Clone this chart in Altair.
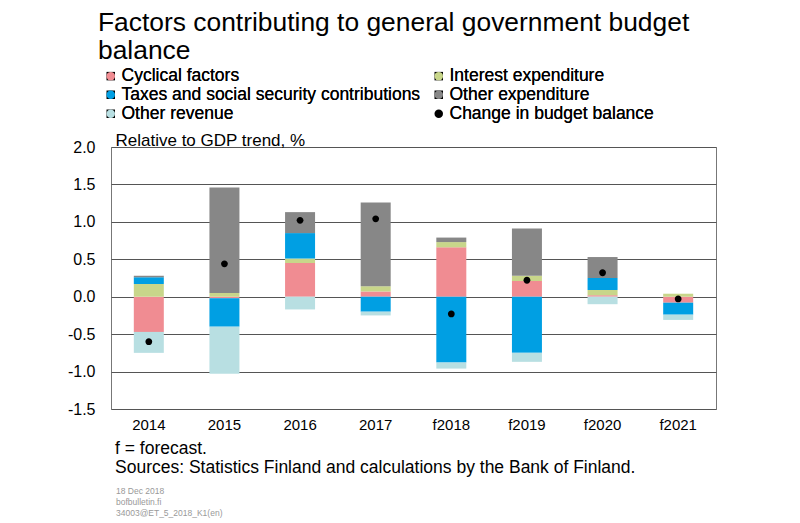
import altair as alt
import pandas as pd

FONT = "Liberation Sans, Arial, sans-serif"

categories = ["2014", "2015", "2016", "2017", "f2018", "f2019", "f2020", "f2021"]
cyclical = [-0.47, -0.02, 0.45, 0.07, 0.66, 0.21, 0.02, -0.08]
interest = [0.17, 0.05, 0.06, 0.07, 0.07, 0.07, 0.07, 0.04]
taxes = [0.09, -0.38, 0.34, -0.20, -0.88, -0.75, 0.16, -0.16]
other_exp = [0.02, 1.41, 0.28, 1.12, 0.06, 0.63, 0.28, 0.0]
other_rev = [-0.28, -0.63, -0.17, -0.05, -0.08, -0.12, -0.10, -0.07]
change = [-0.60, 0.44, 1.02, 1.04, -0.23, 0.22, 0.32, -0.03]

bar_series = ["Cyclical factors", "Interest expenditure",
              "Taxes and social security contributions", "Other expenditure",
              "Other revenue"]
dot_series = "Change in budget balance"
bar_colors = ["#F08C92", "#C8D68A", "#009FE3", "#878787", "#B8DFE2"]
dot_color = "#000000"

# legend order (filled column by column, two columns)
legend_order = ["Cyclical factors", "Taxes and social security contributions",
                "Other revenue", "Interest expenditure", "Other expenditure",
                "Change in budget balance"]

title_lines = ["Factors contributing to general government budget", "balance"]
y_title = "Relative to GDP trend, %"
y_ticks = [-1.5, -1.0, -0.5, 0.0, 0.5, 1.0, 1.5, 2.0]
notes = ["f = forecast.",
         "Sources: Statistics Finland and calculations by the Bank of Finland."]
small_notes = ["18 Dec 2018", "bofbulletin.fi", "34003@ET_5_2018_K1(en)"]

rows = []
for i, c in enumerate(categories):
    for k, (s, vals) in enumerate(zip(bar_series, [cyclical, interest, taxes, other_exp, other_rev])):
        rows.append({"cat": c, "series": s, "value": vals[i], "order": k})
bars_df = pd.DataFrame(rows)
dots_df = pd.DataFrame({"cat": categories, "series": dot_series, "value": change})

all_colors = dict(zip(bar_series, bar_colors))
all_colors[dot_series] = dot_color
legend_colors = [all_colors[s] for s in legend_order]
small_circle = "M-0.48,0A0.48,0.48 0 1,0 0.48,0A0.48,0.48 0 1,0 -0.48,0Z"
legend_shapes = [small_circle if s == dot_series else "square" for s in legend_order]

x_enc = alt.X("cat:N", sort=categories, title=None,
              scale=alt.Scale(paddingInner=0.6, paddingOuter=0.3),
              axis=alt.Axis(labelAngle=0, labelFontSize=15, labelFont=FONT,
                            labelColor="#000", ticks=False, domain=False,
                            labelPadding=8))
y_scale = alt.Scale(domain=[-1.5, 2.0], nice=False, zero=False)

def y_axis():
    return alt.Axis(values=y_ticks, format=".1f", labelOverlap=False,
                    labelExpr="replace(datum.label, '\u2212', '-')",
                    labelFontSize=16, labelFont=FONT, labelColor="#000",
                    ticks=False, domain=False, labelPadding=16,
                    grid=True, gridColor="#555", gridWidth=1,
                    title=y_title, titleAngle=0, titleAlign="left",
                    titleBaseline="alphabetic", titleX=4, titleY=-2,
                    titleFontSize=17, titleFont=FONT, titleFontWeight="normal",
                    titleColor="#000")

bars = alt.Chart(bars_df).mark_bar(size=30).encode(
    x=x_enc,
    y=alt.Y("value:Q", scale=y_scale, axis=y_axis(), stack="zero"),
    color=alt.Color("series:N", scale=alt.Scale(domain=bar_series, range=bar_colors),
                    legend=None),
    order=alt.Order("order:Q"),
)

legend_kw = dict(title=None, orient="none", legendX=-9, legendY=-80,
                 columns=2, columnPadding=9, rowPadding=0,
                 labelFontSize=17.5, labelFont=FONT, labelColor="#000",
                 symbolSize=72, labelOffset=2, padding=0,
                 symbolStrokeWidth=0, symbolOpacity=1,
                 labelLimit=400)

dots = alt.Chart(dots_df).mark_point(filled=True, opacity=1, fillOpacity=1,
                                     size=200, strokeWidth=0).encode(
    x=alt.X("cat:N", sort=categories),
    y=alt.Y("value:Q", axis=y_axis()),
    color=alt.Color("series:N",
                    scale=alt.Scale(domain=legend_order, range=legend_colors),
                    legend=alt.Legend(**legend_kw)),
    shape=alt.Shape("series:N",
                    scale=alt.Scale(domain=legend_order, range=legend_shapes),
                    legend=alt.Legend(**legend_kw)),
)

def note_layer(text, xpos, ypos, size, color):
    return alt.Chart(pd.DataFrame({"t": [text]})).mark_text(
        align="left", baseline="alphabetic", fontSize=size, font=FONT, color=color
    ).encode(text="t:N", x=alt.value(xpos), y=alt.value(ypos))

layers = [bars, dots,
          note_layer(notes[0], 4, 307, 17.5, "#000"),
          note_layer(notes[1], 4, 326, 17.5, "#000"),
          note_layer(small_notes[0], 5, 347, 8.5, "#999"),
          note_layer(small_notes[1], 5, 358, 8.5, "#999"),
          note_layer(small_notes[2], 5, 369, 8.5, "#999")]

chart = alt.layer(*layers).resolve_scale(color="independent").properties(
    width=605, height=262,
    title=alt.Title(title_lines, anchor="start", frame="group", dx=-13, offset=3,
                    fontSize=26.4, font=FONT, fontWeight="normal", color="#000",
                    lineHeight=28),
    autosize=alt.AutoSizeParams(type="none"),
    padding={"left": 103, "top": 139, "right": 70, "bottom": 112},
).configure_view(stroke="#777", strokeWidth=1)

chart.save("out.html", embed_options={"renderer": "svg", "actions": False})
